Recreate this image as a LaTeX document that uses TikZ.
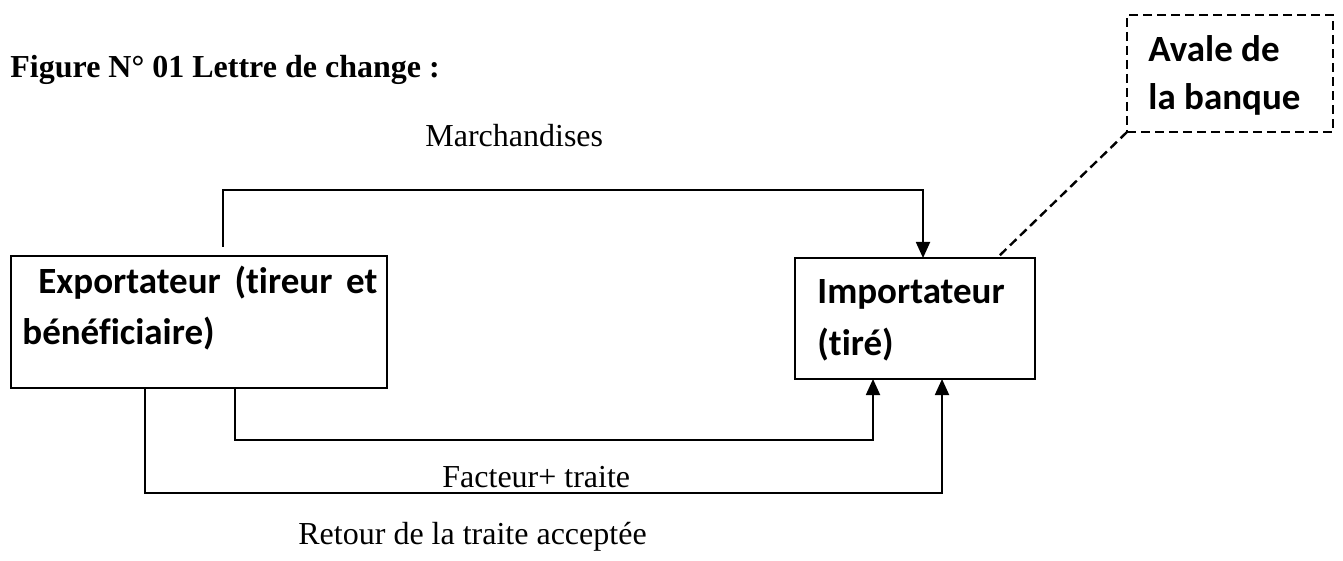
\documentclass[tikz,border=0pt]{standalone}
\usepackage{fontspec}
\setmainfont{Liberation Serif}
\newfontfamily\calib{Carlito}[Ligatures={NoCommon}]
\usetikzlibrary{arrows.meta}
\begin{document}
\begin{tikzpicture}[x=0.5pt,y=-0.5pt,
 boxst/.style={draw, line width=1.1pt, rectangle, inner sep=0pt, outer sep=0pt, anchor=north west},
 dashbox/.style={boxst, line width=1.3pt, dash pattern=on 4.5pt off 2.5pt},
 conn/.style={line width=0.9pt, -{Triangle[length=8pt,width=7pt]}},
 dashln/.style={line width=1.2pt, dash pattern=on 4.5pt off 2.5pt},
 tnr/.style={inner sep=0pt, anchor=base west, font=\fontsize{16}{19}\selectfont},
 tnrb/.style={inner sep=0pt, anchor=base west, font=\fontsize{16}{19}\selectfont\bfseries},
 cal/.style={inner sep=0pt, anchor=base west, font=\calib\bfseries\fontsize{18.5}{22}\selectfont}]
\useasboundingbox (0,0) rectangle (1343,561);

\node[tnrb] (title) at (10,78) {Figure N° 01 Lettre de change :};

\node[boxst, minimum width=188pt, minimum height=66pt] (exp) at (11,256) {};
\node[boxst, minimum width=120pt, minimum height=60.5pt] (imp) at (795,258) {};
\node[dashbox, minimum width=103pt, minimum height=58.5pt] (aval) at (1127,15) {};

\node[cal] (expA) at (38,293) {\makebox[169.5pt][s]{Exportateur (tireur et}};
\node[cal] (expB) at (22,344) {bénéficiaire)};
\node[cal] (impA) at (817,303) {Importateur};
\node[cal] (impB) at (817,355) {(tiré)};
\node[cal] (avA) at (1148,62) {Avale de};
\node[cal] (avB) at (1148,110) {la banque};

\node[tnr] (march) at (425,147) {Marchandises};
\node[tnr] (fact) at (442,487) {Facteur+ traite};
\node[tnr] (ret) at (298,544) {Retour de la traite acceptée};

\coordinate (topstart) at (223,247);
\draw[conn] (topstart) -- (223,190) -| (923,0 |- imp.north);
\draw[conn] (235,0 |- exp.south) -- (235,440) -| (873,0 |- imp.south);
\draw[conn] (145,0 |- exp.south) -- (145,493) -| (942,0 |- imp.south);
\draw[dashln] (aval.south west) -- (997,0 |- imp.north);
\end{tikzpicture}
\end{document}
